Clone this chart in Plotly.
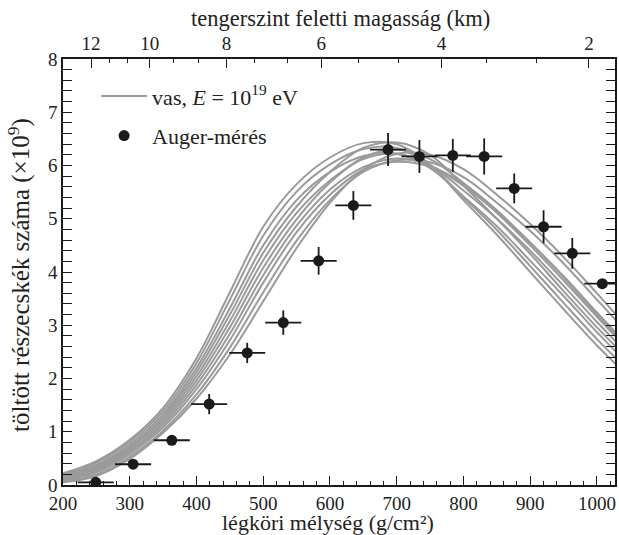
import plotly.graph_objects as go

# ---------------- data ----------------
depth_grid = [200, 250, 300, 350, 400, 450, 500, 550, 600, 650, 700, 750, 800, 850, 900, 950, 1000, 1030]

# simulated iron showers (x10^9 charged particles)
sim_curves = [
    [0.22, 0.45, 0.85, 1.45, 2.38, 3.62, 4.85, 5.65, 6.15, 6.42, 6.40, 6.02, 5.35, 4.70, 4.00, 3.30, 2.62, 2.25],
    [0.20, 0.42, 0.81, 1.39, 2.29, 3.48, 4.68, 5.51, 6.02, 6.31, 6.33, 6.00, 5.40, 4.79, 4.11, 3.42, 2.74, 2.36],
    [0.18, 0.38, 0.76, 1.33, 2.20, 3.32, 4.50, 5.35, 5.88, 6.18, 6.22, 5.95, 5.42, 4.86, 4.21, 3.55, 2.87, 2.48],
    [0.16, 0.35, 0.72, 1.28, 2.12, 3.20, 4.36, 5.23, 5.88, 6.33, 6.43, 6.20, 5.62, 5.00, 4.34, 3.64, 2.96, 2.58],
    [0.14, 0.32, 0.69, 1.23, 2.04, 3.08, 4.22, 5.11, 5.72, 6.12, 6.22, 6.00, 5.53, 5.00, 4.40, 3.74, 3.06, 2.67],
    [0.13, 0.30, 0.65, 1.18, 1.96, 2.96, 4.08, 4.99, 5.68, 6.15, 6.30, 6.12, 5.67, 5.11, 4.50, 3.84, 3.16, 2.76],
    [0.11, 0.27, 0.62, 1.13, 1.88, 2.84, 3.94, 4.87, 5.55, 5.97, 6.13, 6.00, 5.62, 5.12, 4.55, 3.92, 3.24, 2.84],
    [0.09, 0.24, 0.58, 1.08, 1.80, 2.72, 3.80, 4.75, 5.45, 5.92, 6.07, 5.98, 5.66, 5.16, 4.55, 3.90, 3.20, 2.80],
    [0.07, 0.20, 0.53, 1.02, 1.70, 2.58, 3.62, 4.59, 5.35, 5.88, 6.10, 6.06, 5.78, 5.30, 4.77, 4.16, 3.48, 3.07],
    [0.05, 0.17, 0.49, 0.98, 1.62, 2.45, 3.45, 4.45, 5.30, 5.92, 6.22, 6.20, 5.93, 5.45, 4.90, 4.28, 3.60, 3.18],
]

# Auger measurement
auger_depth = [249, 305, 363, 419, 476, 530, 583, 635, 687, 734, 784, 831, 876, 920, 963, 1008]
auger_value = [0.05, 0.39, 0.84, 1.52, 2.48, 3.05, 4.21, 5.25, 6.30, 6.17, 6.19, 6.17, 5.57, 4.85, 4.35, 3.78]
auger_yerr = [0.03, 0.06, 0.08, 0.19, 0.19, 0.23, 0.26, 0.27, 0.31, 0.31, 0.31, 0.34, 0.28, 0.31, 0.29, 0.05]
auger_xerr = [27] * len(auger_depth)

x_range = [200, 1027]
y_range = [0, 8]
x_ticks = [200, 300, 400, 500, 600, 700, 800, 900, 1000]
y_ticks = [0, 1, 2, 3, 4, 5, 6, 7, 8]

# altitude axis (km) and the depth at which each tick sits
alt_labels = ["12", "10", "8", "6", "4", "2"]
alt_depths = [242, 330, 445, 587, 767, 988]
alt_minor_depths = [269, 297, 366, 403, 487, 536, 642, 702, 834, 909]

x_title = "légköri mélység (g/cm²)"
x2_title = "tengerszint feletti magasság (km)"
y_title = "töltött részecskék száma (×10<sup>9</sup>)"

# ---------------- figure ----------------
FONT = "Liberation Serif, DejaVu Serif, serif"
GRAY = "#9a9a9a"
INK = "#1a1a1a"
TXT = "#222"

fig = go.Figure()

for i, ys in enumerate(sim_curves):
    fig.add_trace(go.Scatter(
        x=depth_grid, y=ys, mode="lines",
        line=dict(color=GRAY, width=2, shape="spline", smoothing=1.0),
        name="vas, <i>E</i> = 10<sup>19</sup> eV",
        legendgroup="sim", showlegend=(i == 0), hoverinfo="skip",
    ))

fig.add_trace(go.Scatter(
    x=auger_depth, y=auger_value, mode="markers",
    marker=dict(color=INK, size=11),
    error_x=dict(type="data", array=auger_xerr, color=INK, thickness=1.8, width=0),
    error_y=dict(type="data", array=auger_yerr, color=INK, thickness=1.8, width=0),
    name="Auger-mérés", legendgroup="auger",
))

# dummy trace so that the top (altitude) axis is drawn
fig.add_trace(go.Scatter(
    x=x_range, y=[0, 0], xaxis="x2", mode="lines",
    line=dict(width=0), opacity=0, showlegend=False, hoverinfo="skip",
))

axis_common = dict(
    showline=True, linecolor=INK, linewidth=1.5,
    ticks="inside", ticklen=9, tickwidth=1.3, tickcolor=INK,
    showgrid=False, zeroline=False,
    tickfont=dict(family=FONT, size=19, color=TXT),
)
minor_common = dict(ticks="inside", ticklen=4.5, tickwidth=1.2, tickcolor=INK)

fig.update_layout(
    width=619, height=535,
    margin=dict(l=63, r=2, t=59, b=50),
    paper_bgcolor="white", plot_bgcolor="white",
    font=dict(family=FONT, size=20, color=TXT),
    xaxis=dict(
        range=x_range, tickmode="array", tickvals=x_ticks, mirror=True,
        minor=dict(dtick=20, tick0=200, **minor_common),
        **axis_common,
    ),
    xaxis2=dict(
        range=x_range, overlaying="x", side="top", anchor="y",
        tickmode="array", tickvals=alt_depths, ticktext=alt_labels,
        minor=dict(tickmode="array", tickvals=alt_minor_depths, **minor_common),
        **axis_common,
    ),
    yaxis=dict(
        range=y_range, tickmode="array", tickvals=y_ticks, mirror="allticks",
        minor=dict(dtick=0.2, tick0=0, **minor_common),
        **axis_common,
    ),
    legend=dict(
        x=0.06, y=0.962, xanchor="left", yanchor="top",
        bgcolor="rgba(0,0,0,0)", borderwidth=0,
        font=dict(family=FONT, size=22, color=TXT),
        traceorder="grouped", tracegroupgap=8, itemwidth=46,
    ),
    showlegend=True,
    annotations=[
        dict(text=x_title, xref="paper", yref="paper", x=0.48, y=-0.087,
             xanchor="center", yanchor="middle", showarrow=False, borderpad=0,
             font=dict(family=FONT, size=22, color=TXT)),
        dict(text=x2_title, xref="paper", yref="paper", x=0.503, y=1.095,
             xanchor="center", yanchor="middle", showarrow=False,
             font=dict(family=FONT, size=22.5, color=TXT)),
        dict(text=y_title, xref="paper", yref="paper", x=-0.078, y=0.493,
             xanchor="center", yanchor="middle", showarrow=False, textangle=-90,
             font=dict(family=FONT, size=25, color=TXT)),
    ],
)

fig.write_html("out.html")
